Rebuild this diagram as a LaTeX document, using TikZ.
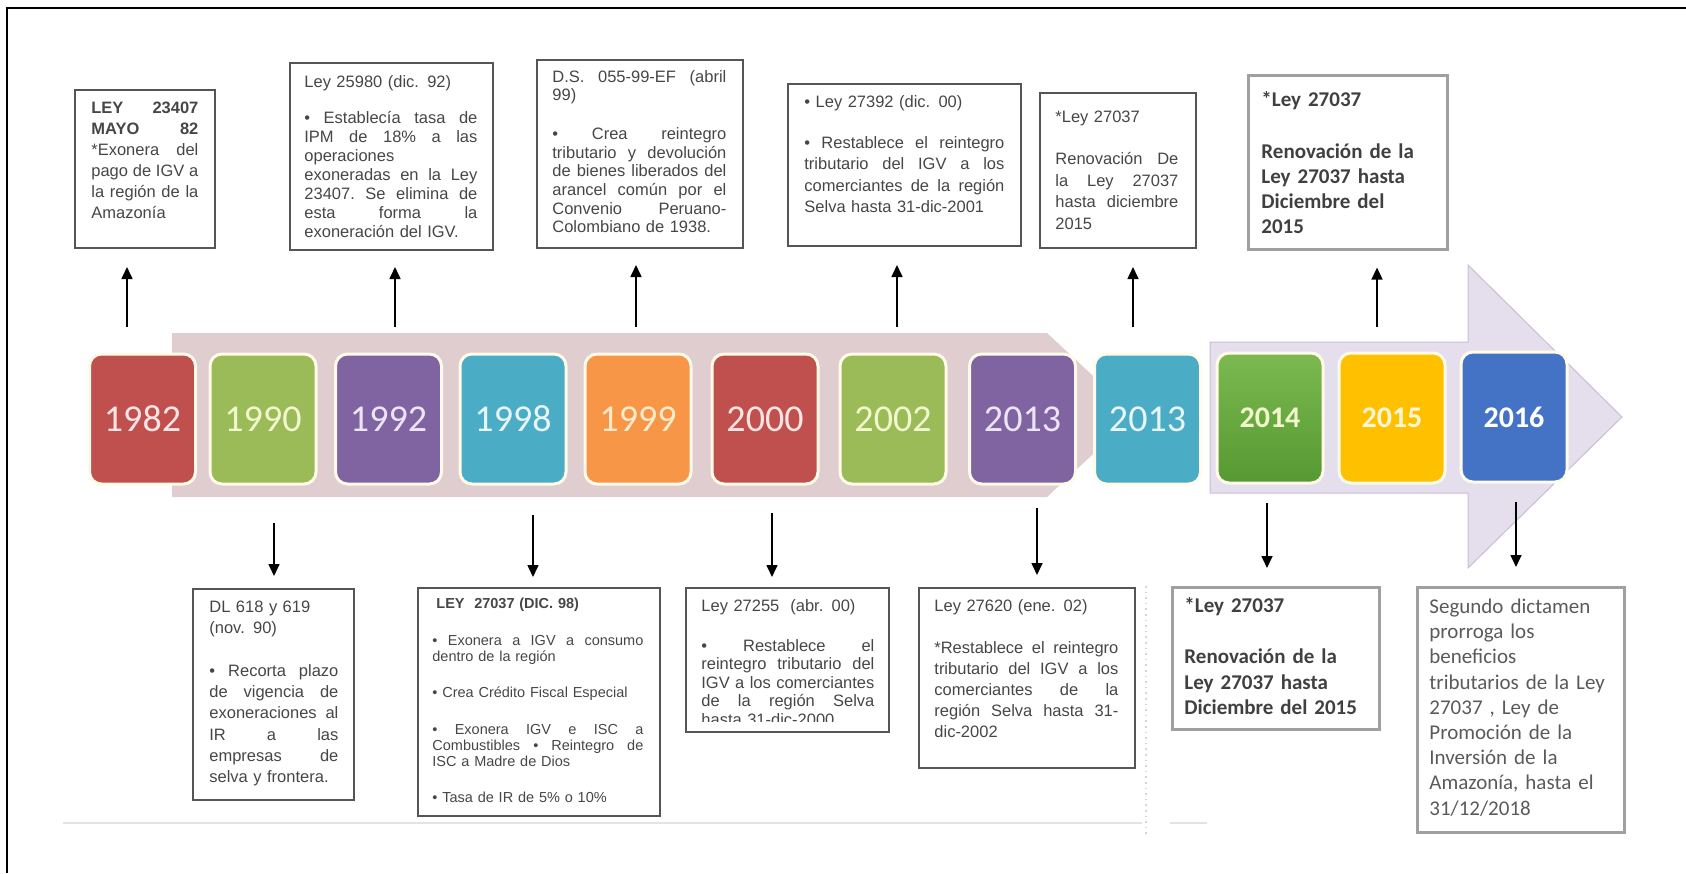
\documentclass[tikz,border=0pt]{standalone}
\usepackage{fontspec}
\setmainfont{Liberation Sans}
\newfontfamily\carl{Carlito}
\usetikzlibrary{arrows.meta}
\definecolor{cRed}{RGB}{192,80,77}
\definecolor{cGreen}{RGB}{155,187,89}
\definecolor{cPurple}{RGB}{128,100,162}
\definecolor{cCyan}{RGB}{75,172,198}
\definecolor{cOrange}{RGB}{247,150,70}
\definecolor{cGold}{RGB}{255,192,0}
\definecolor{cBlue}{RGB}{68,114,196}
\definecolor{gTop}{RGB}{124,186,80}
\definecolor{gBot}{RGB}{86,152,50}
\definecolor{tRed}{RGB}{252,228,228}
\definecolor{tGreen}{RGB}{242,247,205}
\definecolor{tPurple}{RGB}{238,228,248}
\definecolor{tCyan}{RGB}{232,246,250}
\definecolor{tOrange}{RGB}{252,234,205}
\definecolor{tGold}{RGB}{255,246,215}
\definecolor{pinkband}{RGB}{223,205,208}
\definecolor{lavband}{RGB}{229,222,237}
\definecolor{lavline}{RGB}{200,190,214}
\definecolor{yrim}{RGB}{255,251,232}
\definecolor{aline}{RGB}{85,85,85}
\definecolor{cline}{RGB}{160,160,160}
\definecolor{atext}{RGB}{70,70,70}
\definecolor{ctext}{RGB}{64,64,64}
\definecolor{stext}{RGB}{90,90,90}
\newcommand{\jline}[1]{{\frenchspacing\spaceskip=\fontdimen2\font plus 1fil\relax\xspaceskip=\spaceskip\makebox[\hsize][s]{#1}}}
\begin{document}
\begin{tikzpicture}[x=0.5pt,y=-0.5pt,
  yb/.style={rounded corners=6pt, draw=yrim, line width=1.5pt, minimum width=53pt, minimum height=65pt, inner sep=0pt, font=\carl\fontsize{19pt}{19pt}\selectfont},
  ybb/.style={yb, font=\carl\bfseries\fontsize{15pt}{15pt}\selectfont},
  abox/.style={draw=aline, line width=1pt, inner sep=0pt, anchor=north west},
  cbox/.style={draw=cline, line width=1.3pt, inner sep=0pt, anchor=north west},
  atxt/.style={inner sep=0pt, anchor=base west, align=left, text=atext},
  ctxt/.style={inner sep=0pt, anchor=base west, align=left, text=ctext, text width=95pt},
  arr/.style={-{Triangle[length=6pt,width=5.5pt]}, line width=0.8pt, black},
]
\useasboundingbox (0,0) rectangle (1686,873);
% frame
\draw[line width=1pt] (7,873) -- (7,8) -- (1686,8);
% baseline
\draw[gray!22, line width=1pt] (63,823) -- (1142,823);
\draw[gray!22, line width=1pt] (1170,823) -- (1207,823);
\draw[gray!35, dotted, line width=0.8pt] (1146,586) -- (1146,835);
% bands
\fill[pinkband] (172,333) -- (1047,333) -- (1135,415) -- (1047,497) -- (172,497) -- cycle;
\filldraw[fill=lavband, draw=lavline, line width=0.5pt] (1210,342) -- (1468,342) -- (1468,265) -- (1622,417) -- (1468,568) -- (1468,493) -- (1210,493) -- cycle;
% year boxes
\node[yb, fill=cRed, text=tRed] (y1) at (142.5,419) {1982};
\node[yb, fill=cGreen, text=tGreen] (y2) at (263,419) {1990};
\node[yb, fill=cPurple, text=tPurple] (y3) at (388.5,419) {1992};
\node[yb, fill=cCyan, text=tCyan] (y4) at (513,419) {1998};
\node[yb, fill=cOrange, text=tOrange] (y5) at (638,419) {1999};
\node[yb, fill=cRed, text=tRed] (y6) at (765,419) {2000};
\node[yb, fill=cGreen, text=tGreen] (y7) at (893,419) {2002};
\node[yb, fill=cPurple, text=tPurple] (y8) at (1022.5,419) {2013};
\node[yb, fill=cCyan, text=tCyan] (y9) at (1147.5,419) {2013};
\node[ybb, top color=gTop, bottom color=gBot, text=tGreen] (y10) at (1270,418) {2014};
\node[ybb, fill=cGold, text=tGold] (y11) at (1392,418) {2015};
\node[ybb, fill=cBlue, text=white] (y12) at (1514,417) {2016};
% top boxes
\node[abox, minimum width=70pt, minimum height=79pt] (b1) at (74,89) {};
\node[atxt, text width=53.5pt, font=\fontsize{8.25pt}{10.5pt}\selectfont] (t1) at (91,113) {%
\jline{\textbf{LEY 23407}}\\
\jline{\textbf{MAYO 82}}\\
\jline{*Exonera del}\\
\jline{pago de IGV a}\\
\jline{la región de la}\\
Amazonía};
\node[abox, minimum width=101.5pt, minimum height=93.5pt] (b2) at (289,62) {};
\node[atxt, text width=86.5pt, font=\fontsize{8.25pt}{9.5pt}\selectfont] (t2) at (304,87) {%
Ley 25980 (dic. 92)\\[8.5pt]
\jline{• Establecía tasa de}\\
\jline{IPM de 18\% a las}\\
operaciones\\
\jline{exoneradas en la Ley}\\
\jline{23407. Se elimina de}\\
\jline{esta forma la}\\
exoneración del IGV.};
\node[abox, minimum width=103pt, minimum height=94pt] (b3) at (536,59) {};
\node[atxt, text width=87pt, font=\fontsize{8.25pt}{9.3pt}\selectfont] (t3) at (552,82) {%
\jline{D.S. 055-99-EF (abril}\\
99)\\[10.2pt]
\jline{• Crea reintegro}\\
\jline{tributario y devolución}\\
\jline{de bienes liberados del}\\
\jline{arancel común por el}\\
\jline{Convenio Peruano-}\\
Colombiano de 1938.};
\node[abox, minimum width=116.5pt, minimum height=81pt] (b4) at (787,83) {};
\node[atxt, text width=100pt, font=\fontsize{8.25pt}{10.75pt}\selectfont] (t4) at (804,107) {%
• Ley 27392 (dic. 00)\\[9.75pt]
\jline{• Restablece el reintegro}\\
\jline{tributario del IGV a los}\\
\jline{comerciantes de la región}\\
Selva hasta 31-dic-2001};
\node[abox, minimum width=78pt, minimum height=77.5pt] (b5) at (1039,92) {};
\node[atxt, text width=61.5pt, font=\fontsize{8.25pt}{10.75pt}\selectfont] (t5) at (1055,122) {%
*Ley 27037\\[10.5pt]
\jline{Renovación De}\\
\jline{la Ley 27037}\\
\jline{hasta diciembre}\\
2015};
\node[cbox, minimum width=99.5pt, minimum height=87pt] (b6) at (1247,74) {};
\node[ctxt, font=\carl\bfseries\fontsize{10.5pt}{12.5pt}\selectfont] (t6) at (1261,106.5) {%
*Ley 27037\\[13.5pt]
Renovación de la\\
Ley 27037 hasta\\
Diciembre del\\
2015};
% bottom boxes
\node[abox, minimum width=80.5pt, minimum height=105.5pt] (b7) at (192,588) {};
\node[atxt, text width=64.5pt, font=\fontsize{8.25pt}{10.65pt}\selectfont] (t7) at (209,612) {%
DL 618 y 619\\
(nov. 90)\\[10.85pt]
\jline{• Recorta plazo}\\
\jline{de vigencia de}\\
\jline{exoneraciones al}\\
\jline{IR a las}\\
\jline{empresas de}\\
selva y frontera.};
\node[abox, minimum width=121pt, minimum height=114pt] (b8) at (417,587) {};
\node[atxt, text width=105.5pt, font=\fontsize{7.25pt}{8pt}\selectfont] (t8) at (432,608.5) {%
\hspace{2pt}\textbf{LEY\ \ 27037 (DIC. 98)}\\[10.5pt]
\jline{• Exonera a IGV a consumo}\\
dentro de la región\\[10pt]
• Crea Crédito Fiscal Especial\\[10.5pt]
\jline{• Exonera IGV e ISC a}\\
\jline{Combustibles • Reintegro de}\\
ISC a Madre de Dios\\[10pt]
• Tasa de IR de 5\% o 10\%};
\node[abox, minimum width=101.5pt, minimum height=72pt] (b9) at (685,587) {};
\begin{scope}
\clip (685,587) rectangle (888,721);
\node[atxt, text width=86.5pt, font=\fontsize{8.25pt}{9.25pt}\selectfont] (t9) at (701,611) {%
Ley 27255\ \ (abr. 00)\\[10.75pt]
\jline{• Restablece el}\\
\jline{reintegro tributario del}\\
\jline{IGV a los comerciantes}\\
\jline{de la región Selva}\\
hasta 31-dic-2000};
\end{scope}
\node[abox, minimum width=108pt, minimum height=90pt] (b10) at (918,587) {};
\node[atxt, text width=92pt, font=\fontsize{8.25pt}{10.5pt}\selectfont] (t10) at (934,611) {%
Ley 27620 (ene. 02)\\[10.5pt]
\jline{*Restablece el reintegro}\\
\jline{tributario del IGV a los}\\
\jline{comerciantes de la}\\
\jline{región Selva hasta 31-}\\
dic-2002};
\node[cbox, minimum width=103.5pt, minimum height=71pt] (b11) at (1171,586) {};
\node[ctxt, font=\carl\bfseries\fontsize{10.5pt}{12.75pt}\selectfont] (t11) at (1184,612.5) {%
*Ley 27037\\[12.75pt]
Renovación de la\\
Ley 27037 hasta\\
Diciembre del 2015};
\node[cbox, minimum width=103.5pt, minimum height=122.5pt] (b12) at (1416,586) {};
\node[ctxt, text=stext, font=\carl\fontsize{10.5pt}{12.6pt}\selectfont] (t12) at (1429,613.5) {%
Segundo dictamen\\
prorroga los\\
beneficios\\
tributarios de la Ley\\
27037 , Ley de\\
Promoción de la\\
Inversión de la\\
Amazonía, hasta el\\
31/12/2018};
% arrow tails
\coordinate (u1) at (127,327);
\coordinate (u2) at (395,327);
\coordinate (u3) at (636,327);
\coordinate (u4) at (897,327);
\coordinate (u5) at (1133,327);
\coordinate (u6) at (1377,327);
\coordinate (d1) at (274,523);
\coordinate (d2) at (533,515);
\coordinate (d3) at (772,513);
\coordinate (d4) at (1037,508);
\coordinate (d5) at (1267,503);
\coordinate (d6) at (1516,502);
% arrows
\draw[arr, shorten >=9pt] (u1) -- (u1 |- b1.south);
\draw[arr, shorten >=8pt] (u2) -- (u2 |- b2.south);
\draw[arr, shorten >=8pt] (u3) -- (u3 |- b3.south);
\draw[arr, shorten >=9pt] (u4) -- (u4 |- b4.south);
\draw[arr, shorten >=9pt] (u5) -- (u5 |- b5.south);
\draw[arr, shorten >=8.5pt] (u6) -- (u6 |- b6.south);
\draw[arr, shorten >=6pt] (d1) -- (d1 |- b7.north);
\draw[arr, shorten >=5pt] (d2) -- (d2 |- b8.north);
\draw[arr, shorten >=5pt] (d3) -- (d3 |- b9.north);
\draw[arr, shorten >=6pt] (d4) -- (d4 |- b10.north);
\draw[arr, shorten >=9pt] (d5) -- (d5 |- b11.north);
\draw[arr, shorten >=9.5pt] (d6) -- (d6 |- b12.north);
\end{tikzpicture}
\end{document}
